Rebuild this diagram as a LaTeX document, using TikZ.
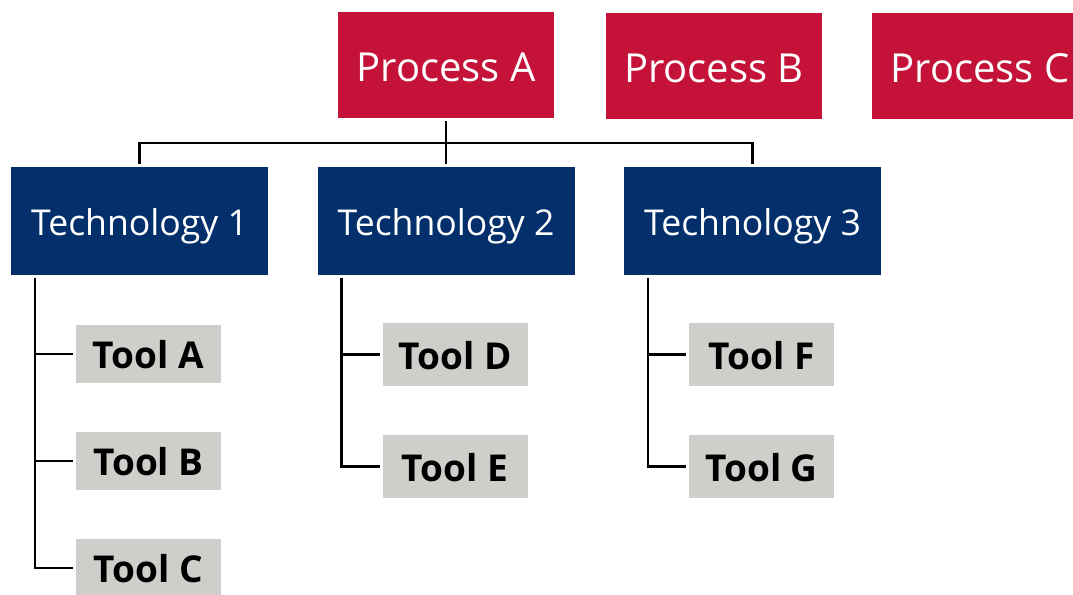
\documentclass[tikz,border=0pt]{standalone}
\usepackage{fontspec}
\setmainfont{Open Sans}
\definecolor{procred}{HTML}{C41239}
\definecolor{technavy}{HTML}{03306B}
\definecolor{toolgray}{HTML}{D0CECA}
\tikzset{
  process/.style={fill=procred, text=white, inner sep=0pt, outer sep=1.5pt,
    minimum width=108pt, minimum height=53pt,
    font=\fontsize{20}{24}\selectfont, text height=16pt, text depth=0pt},
  techbox/.style={fill=technavy, text=white, inner sep=0pt, outer sep=1.5pt,
    minimum width=128.5pt, minimum height=54pt,
    font=\fontsize{17.8}{21}\selectfont, text height=14.5pt, text depth=0pt},
  toolbox/.style={fill=toolgray, text=black, inner sep=0pt, outer sep=1.5pt,
    minimum width=72.5pt, minimum height=31.5pt,
    font=\fontsize{18.5}{22}\selectfont\bfseries, text height=14.5pt, text depth=0pt},
  link/.style={draw=black, line width=1.4pt}
}
\begin{document}
\begin{tikzpicture}[x=0.5pt, y=-0.5pt]
\useasboundingbox (0,0) rectangle (1073,595);
\clip (0,0) rectangle (1073,595);
% top row
\node[process] (pa) at (446,65) {Process A};
\node[process] (pb) at (714,66) {Process B};
\node[process] (pc) at (980,66) {Process C};
% second row
\node[techbox] (t1) at (139.5,221) {Technology 1};
\node[techbox] (t2) at (446,221) {Technology 2};
\node[techbox] (t3) at (752.5,221) {Technology 3};
% tools
\node[toolbox, minimum height=29pt] (ta) at (148.5,354) {Tool A};
\node[toolbox, minimum height=29pt] (tb) at (148.5,461) {Tool B};
\node[toolbox, minimum height=29pt] (tc) at (148.5,568) {Tool C};
\node[toolbox] (td) at (455,354.5) {Tool D};
\node[toolbox] (te) at (455,466.5) {Tool E};
\node[toolbox] (tf) at (761.5,354.5) {Tool F};
\node[toolbox] (tg) at (761.5,466.5) {Tool G};
\coordinate (bus) at (446,143);

\draw[link] (pa.south) -- (bus);
\draw[link] (t1.north) |- (bus) -| (t3.north);
\draw[link] (bus) -- (t2.north);

\draw[link] ([xshift=13.5pt]t1.south west) |- (ta.west);
\draw[link] ([xshift=13.5pt]t1.south west) |- (tb.west);
\draw[link] ([xshift=13.5pt]t1.south west) |- (tc.west);
\draw[link] ([xshift=13.5pt]t2.south west) |- (td.west);
\draw[link] ([xshift=13.5pt]t2.south west) |- (te.west);
\draw[link] ([xshift=13.5pt]t3.south west) |- (tf.west);
\draw[link] ([xshift=13.5pt]t3.south west) |- (tg.west);
\end{tikzpicture}
\end{document}
